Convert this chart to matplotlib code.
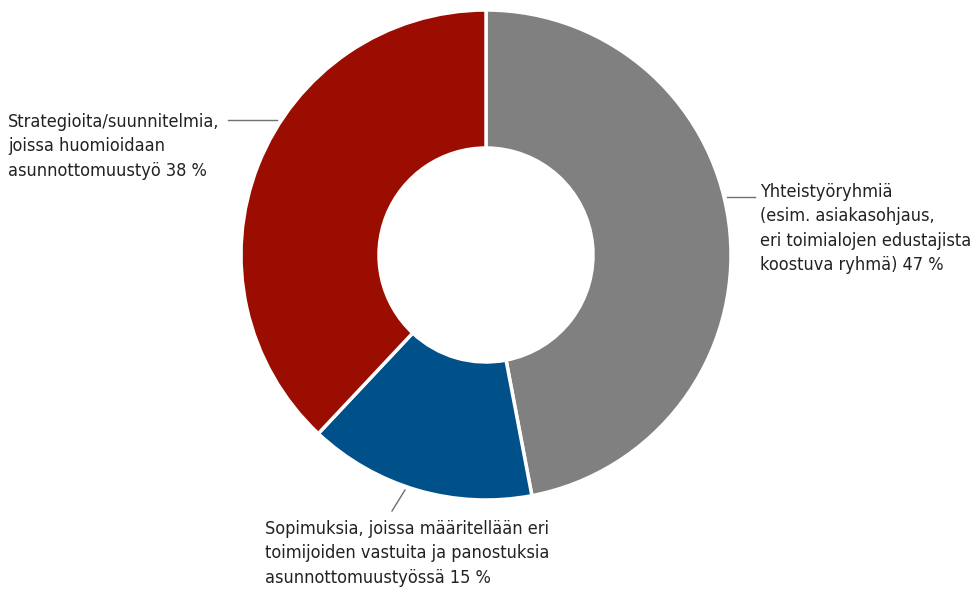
import matplotlib.pyplot as plt

# Datos
etiquetas = [
    'Yhteistyöryhmiä\n(esim. asiakasohjaus,\neri toimialojen edustajista\nkoostuva ryhmä) 47 %',
    'Sopimuksia, joissa määritellään eri\ntoimijoiden vastuita ja panostuksia\nasunnottomuustyössä 15 %',
    'Strategioita/suunnitelmia,\njoissa huomioidaan\nasunnottomuustyö 38 %',
]
valores = [47, 15, 38]
colores = ['#808080', '#00508A', '#9B0D00']

plt.rcParams['font.family'] = ['DejaVu Sans']
plt.rcParams['font.stretch'] = 'condensed'
COLOR_TEXTO = '#222222'
COLOR_LINEA = '#707070'

W, H = 977, 595
fig = plt.figure(figsize=(W / 100, H / 100), dpi=100)
ax = fig.add_axes([0, 0, 1, 1])

cx, cy, r = 486, H - 255, 245
ax.pie(valores, colors=colores, startangle=90, counterclock=False,
       center=(cx, cy), radius=r, frame=True,
       wedgeprops=dict(width=r - 107, edgecolor='white', linewidth=2.5))
ax.set_xlim(0, W)
ax.set_ylim(0, H)
ax.set_aspect('equal')
ax.axis('off')

# Líneas guía y textos
ax.plot([727, 755], [H - 197, H - 197], color=COLOR_LINEA, lw=1)
ax.text(760, H - 183, etiquetas[0], ha='left', va='top', fontsize=13,
        color=COLOR_TEXTO, linespacing=1.45)

ax.plot([405, 392], [H - 490, H - 511], color=COLOR_LINEA, lw=1)
ax.text(265, H - 520, etiquetas[1], ha='left', va='top', fontsize=13,
        color=COLOR_TEXTO, linespacing=1.45)

ax.plot([228, 277], [H - 120, H - 120], color=COLOR_LINEA, lw=1)
ax.text(8, H - 113, etiquetas[2], ha='left', va='top', fontsize=13,
        color=COLOR_TEXTO, linespacing=1.45)

fig.savefig('out.png', dpi=100)
